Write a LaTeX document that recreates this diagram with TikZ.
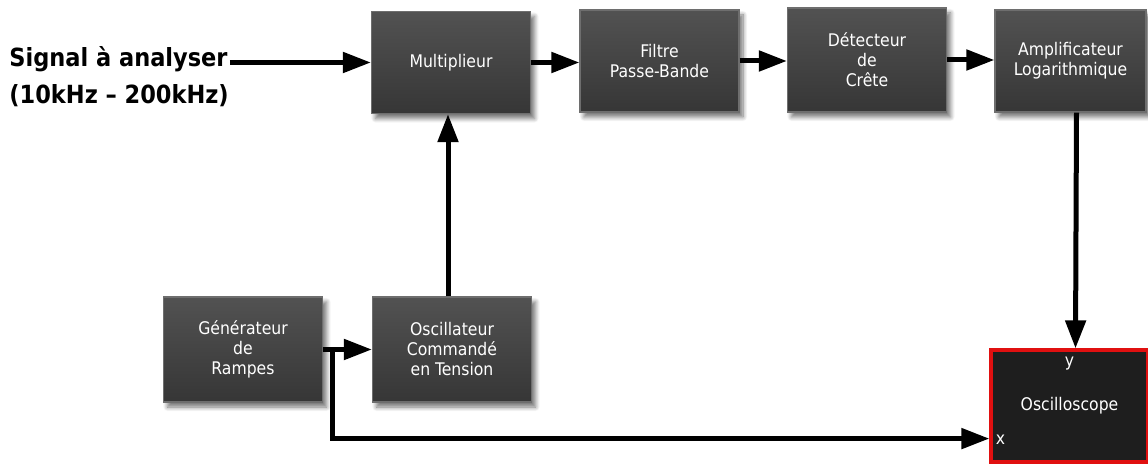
\documentclass[tikz,border=0pt]{standalone}
\usepackage{fontspec}
\setmainfont{DejaVu Sans Condensed}
\usetikzlibrary{arrows.meta,shadows.blur,calc}

\definecolor{blktop}{HTML}{525252}
\definecolor{blkbot}{HTML}{363636}
\definecolor{blkedge}{HTML}{6E6E6E}
\definecolor{scopefill}{HTML}{1E1E1E}
\definecolor{scopered}{HTML}{E01010}

\tikzset{
  blk/.style={draw=blkedge, line width=0.6pt, top color=blktop, bottom color=blkbot,
    text=white, font=\fontsize{8.7}{10}\selectfont, align=center, inner sep=0pt,
    minimum width=79.5pt, minimum height=51pt,
    blur shadow={shadow xshift=2pt, shadow yshift=-2.5pt, shadow blur steps=8, shadow opacity=55}},
  scopebox/.style={draw=scopered, line width=1.6pt, fill=scopefill, text=white,
    inner sep=0pt, minimum width=78.5pt, minimum height=56pt},
  arr/.style={line width=2.5pt, -{Triangle[length=14pt,width=10pt]}},
  sigtext/.style={font=\fontsize{12.5}{19}\selectfont\bfseries, inner sep=1pt},
  wlabel/.style={text=white, font=\fontsize{8.7}{10}\selectfont, inner sep=0pt}
}

\begin{document}
\begin{tikzpicture}[x=0.5pt,y=-0.5pt]
\useasboundingbox (0,0) rectangle (1148,464);

% main signal chain
\node[blk] (mult) at (451,62.5) {Multiplieur};
\node[blk] (filt) at (659.5,61) {Filtre\\Passe-Bande};
\node[blk, minimum height=52pt] (det) at (867,60) {Détecteur\\de\\Crête};
\node[blk, minimum width=75.5pt] (amp) at (1070.5,61) {Amplificateur\\Logarithmique};

% sweep generation
\node[blk, minimum height=52.5pt] (gen) at (243,349.5) {Générateur\\de\\Rampes};
\node[blk, minimum height=52.5pt] (osc) at (452,349.5) {Oscillateur\\Commandé\\en Tension};

% display
\node[scopebox] (scope) at (1069.5,406) {};
\node[wlabel] (scopename) at (scope.center) {Oscilloscope};
\node[wlabel, anchor=north] (ylab) at ([yshift=-4pt]scope.north) {y};
\node[wlabel] (xlab) at ([xshift=5.5pt,yshift=12pt]scope.south west) {x};

% input label
\node[sigtext, anchor=base west] (sig1) at (7,67) {Signal à analyser};
\node[sigtext, anchor=base west] (sig2) at (7,104) {(10kHz – 200kHz)};

% connectors
\coordinate (junc) at ($(gen.east)+(9,0)$);
\coordinate (xin) at ([yshift=12.5pt]scope.south west);

\draw[arr] (sig1.east |- mult.west) -- (mult.west);
\draw[arr] (mult.east) -- (mult.east -| filt.west);
\draw[arr] (filt.east) -- (filt.east -| det.west);
\draw[arr] (det.east) -- (det.east -| amp.west);
\draw[arr] ([xshift=3pt]amp.south) -- ([xshift=3pt]scope.north);
\draw[arr] ([xshift=-2pt]osc.north) -- ([xshift=-2pt]osc.north |- mult.south);
\draw[arr] (gen.east) -- (osc.west);
\draw[arr] (junc) |- (xin);
\end{tikzpicture}
\end{document}
